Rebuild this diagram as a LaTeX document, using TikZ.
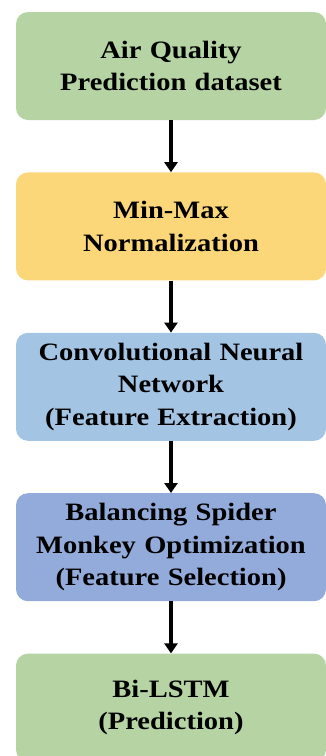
\documentclass[tikz,border=0pt]{standalone}
\usepackage{fontspec}
\setmainfont[FakeStretch=1.14]{Liberation Serif}
\usetikzlibrary{positioning,arrows.meta}
\definecolor{boxgreen}{RGB}{181,211,163}
\definecolor{boxyellow}{RGB}{251,215,122}
\definecolor{boxblue}{RGB}{164,196,227}
\definecolor{boxpurple}{RGB}{147,171,218}
\begin{document}
\begin{tikzpicture}[node distance=52pt, every node/.style={align=center},
  stepbox/.style={rounded corners=12pt, text width=300pt, inner xsep=5pt, minimum height=108pt,
    font=\bfseries\fontsize{25}{32.5}\selectfont},
  flow/.style={-{Triangle[width=13pt,length=10pt]}, line width=3.5pt}]
\useasboundingbox (0pt,0pt) rectangle (325pt,-756pt);
\node (dataset) [stepbox, fill=boxgreen] at (171pt,-66pt) {Air Quality\\Prediction dataset};
\node (minmax) [stepbox, fill=boxyellow, below=of dataset] {Min-Max\\Normalization};
\node (cnn) [stepbox, fill=boxblue, below=of minmax] {Convolutional Neural\\Network\\(Feature Extraction)};
\node (bsmo) [stepbox, fill=boxpurple, below=of cnn] {Balancing Spider\\Monkey Optimization\\(Feature Selection)};
\node (bilstm) [stepbox, fill=boxgreen, below=of bsmo] {Bi-LSTM\\(Prediction)};

\draw[flow] (dataset) -- (minmax);
\draw[flow] (minmax) -- (cnn);
\draw[flow] (cnn) -- (bsmo);
\draw[flow] (bsmo) -- (bilstm);
\end{tikzpicture}
\end{document}
